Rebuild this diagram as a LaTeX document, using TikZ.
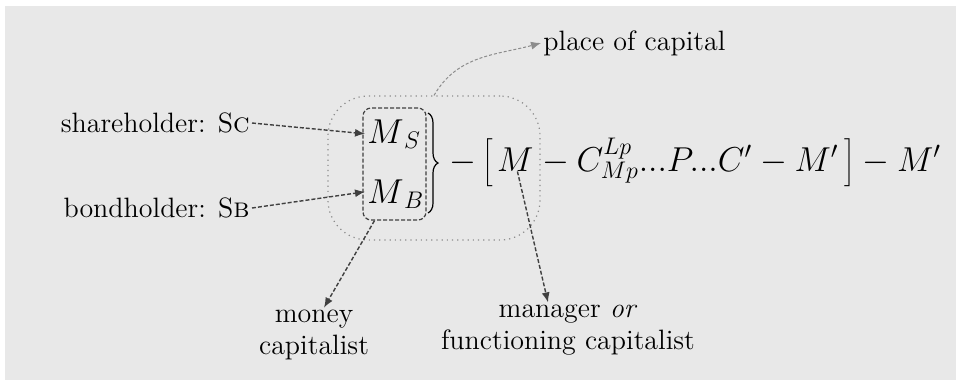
\documentclass[tikz,border=0pt]{standalone}
\usetikzlibrary{positioning,calc,arrows.meta,decorations.pathreplacing}
\definecolor{paper}{HTML}{E8E8E8}

\begin{document}
\begin{tikzpicture}[x=0.5pt,y=-0.5pt,
  lbl/.style={font=\fontsize{14}{16}\selectfont,inner sep=1pt},
  frm/.style={font=\fontsize{17}{20}\selectfont,inner sep=0pt},
  hint/.style={draw=black!75,line width=0.7pt,dash pattern=on 2pt off 1pt,
    -{Latex[length=5pt,width=4pt]}},
  faint/.style={draw=black!45,line width=0.5pt,dash pattern=on 1.5pt off 1pt,
    -{Latex[length=5pt,width=4pt]}}]
\def\tall{\vrule height 16pt depth 9pt width 0pt}
\nulldelimiterspace=0pt

% Canvas.
\useasboundingbox (0,0) rectangle (956,382);
\fill[paper] (5,6) rectangle (956,380);

% Place of capital and the two money capitals.
\node (place) [draw=black!45,line width=0.6pt,dotted,rounded corners=20pt,
  minimum width=106pt,minimum height=72pt] at (434,168) {};
\node (money) [draw=black!75,line width=0.6pt,dash pattern=on 2pt off 1pt,
  rounded corners=4pt,minimum width=31.5pt,minimum height=56pt] at (394.5,164) {};

\node (ms) [frm,anchor=base west] at (367,143) {$M_{\,S}$};
\node (mb) [frm,anchor=base west] at (367,203) {$M_{\,B}$};

% Circuit of capital.
\draw[line width=0.6pt,decorate,decoration={brace,amplitude=5pt}]
  (428,113) -- (428,213);
\node (lead) [frm,anchor=base west] at (449,171) {$-\left[\tall\right.\mkern2mu$};
\node (m) [frm,anchor=base west] at (lead.base east) {$M$};
\node (tail) [frm,anchor=base west] at (m.base east)
  {${}-C^{Lp}_{Mp}...P...C'-M'\left.\tall\right]-M'$};

% Labels.
\node (share) [lbl,anchor=east] at (252,123) {shareholder: S\textsc{c}};
\node (bond) [lbl,anchor=east] at (252,208) {bondholder: S\textsc{b}};
\node (cap) [lbl,align=center] at (314,335) {money\\capitalist};
\node (mgr) [lbl,align=center] at (568,330) {manager \emph{or}\\functioning capitalist};
\node (pc) [lbl,anchor=west] at (541,43) {place of capital};

% Connectors.
\draw[hint] (share.east) -- ([xshift=-1pt]ms.west);
\draw[hint] (bond.east) -- ([xshift=-1pt,yshift=1pt]mb.west);
\draw[hint] ([xshift=-10pt]money.south) -- ([xshift=5pt]cap.north);
\draw[hint] ([xshift=1pt]m.south) -- ([xshift=-10pt]mgr.north);
\draw[faint] (place.north) to[out=60,in=195] (pc.west);

\end{tikzpicture}
\end{document}
